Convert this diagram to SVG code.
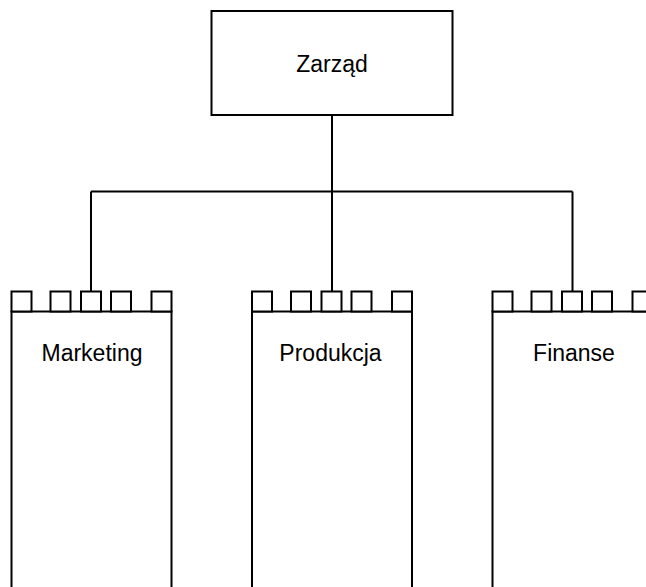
<svg xmlns="http://www.w3.org/2000/svg" width="646" height="587" viewBox="0 0 646 587">
<style>
.s{fill:#fff;stroke:#000;stroke-width:2}
.c{fill:none;stroke:#000;stroke-width:2}
.t{font-family:"Liberation Sans",Arial,sans-serif;font-size:23px;fill:#000;text-anchor:middle}
</style>
<defs>
<g id="dept">
<rect class="s" x="0" y="20" width="160" height="300"/>
<rect class="s" x="0" y="0" width="20" height="20"/>
<rect class="s" x="39" y="0" width="20" height="20"/>
<rect class="s" x="69.5" y="0" width="20" height="20"/>
<rect class="s" x="99.5" y="0" width="20" height="20"/>
<rect class="s" x="140" y="0" width="20" height="20"/>
</g>
</defs>
<rect width="646" height="587" fill="#fff"/>
<g id="connectors">
<path class="c" d="M332 115V191.5"/>
<path class="c" d="M91 191.5H572.5"/>
<path class="c" d="M91 191.5V291"/>
<path class="c" d="M332 191.5V291"/>
<path class="c" d="M572.5 191.5V291"/>
</g>
<g id="zarzad">
<rect class="s" x="211.5" y="11" width="241" height="104"/>
<text class="t" x="332" y="72">Zarząd</text>
</g>
<g id="marketing">
<use href="#dept" x="11.5" y="291.5"/>
<text class="t" x="92" y="361">Marketing</text>
</g>
<g id="produkcja">
<use href="#dept" x="252" y="291.5"/>
<text class="t" x="330.5" y="361">Produkcja</text>
</g>
<g id="finanse">
<use href="#dept" x="492.5" y="291.5"/>
<text class="t" x="574" y="361">Finanse</text>
</g>
</svg>
